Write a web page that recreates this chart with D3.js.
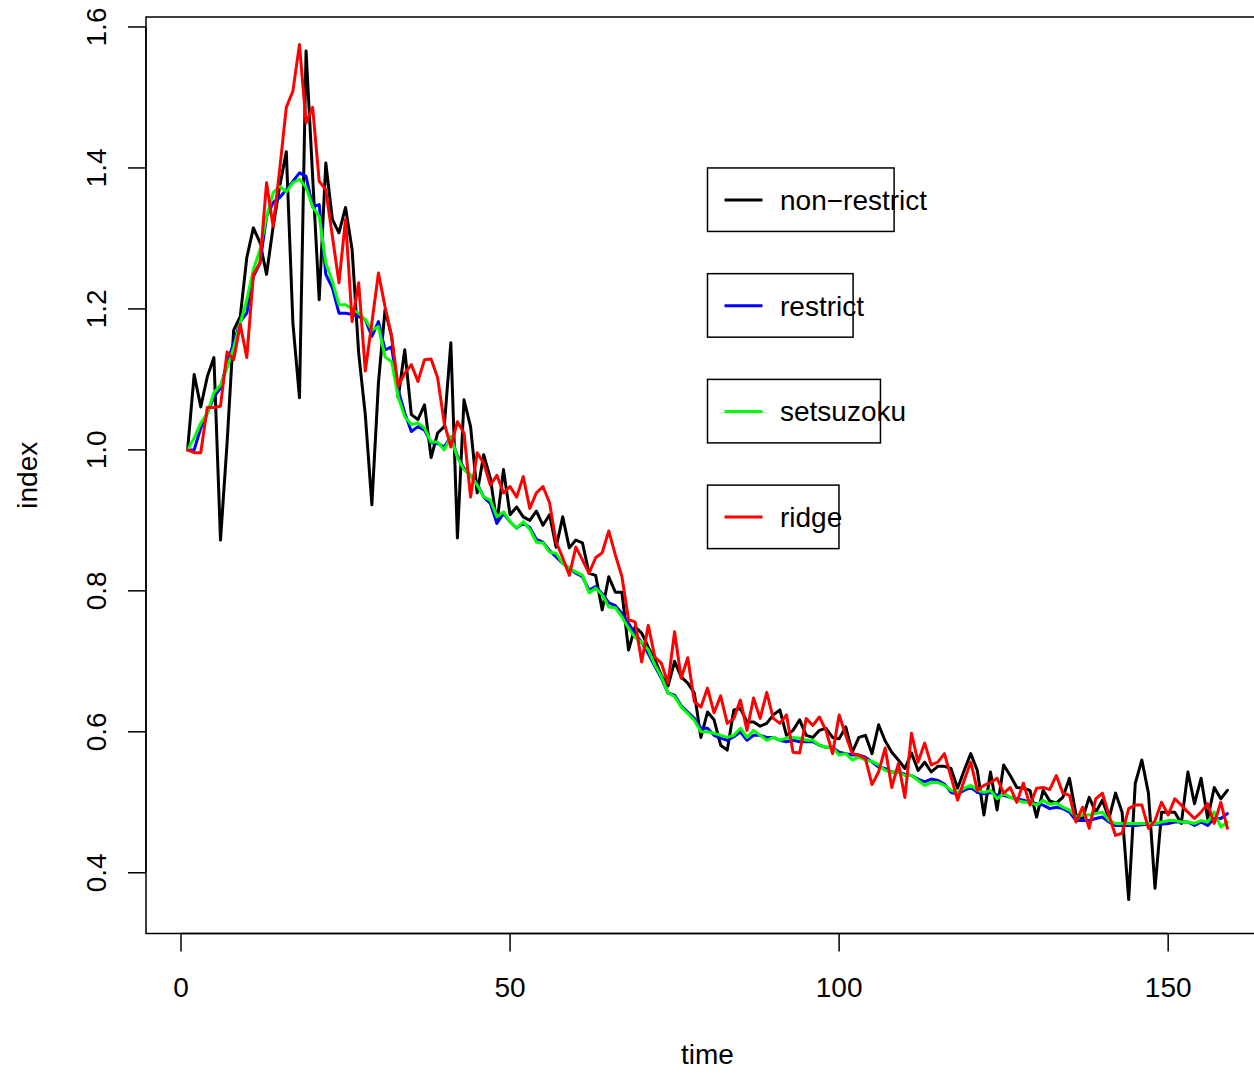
<!DOCTYPE html>
<html>
<head>
<meta charset="utf-8">
<script src="https://cdn.jsdelivr.net/npm/d3@7"></script>
<style>
  body { margin: 0; background: #fff; }
  text { font-family: "Liberation Sans", Arial, Helvetica, sans-serif; fill: #000; }
</style>
</head>
<body>
<div id="chart"></div>
<script>
// series, time = 1..159
const nonRestrict = [
  1.0, 1.107, 1.061, 1.104, 1.131, 0.872, 1.01, 1.17, 1.189, 1.273,
  1.315, 1.294, 1.249, 1.317, 1.374, 1.423, 1.18, 1.074, 1.566, 1.388,
  1.213, 1.407, 1.327, 1.308, 1.344, 1.284, 1.137, 1.05, 0.922, 1.095,
  1.199, 1.161, 1.074, 1.142, 1.05, 1.043, 1.064, 0.989, 1.024, 1.033,
  1.152, 0.875, 1.071, 1.033, 0.939, 0.993, 0.96, 0.896, 0.972, 0.908,
  0.919, 0.905, 0.9, 0.913, 0.893, 0.908, 0.862, 0.905, 0.861, 0.872,
  0.868, 0.825, 0.822, 0.773, 0.82, 0.798, 0.798, 0.716, 0.749, 0.74,
  0.72, 0.702, 0.68, 0.665, 0.7, 0.678, 0.669, 0.655, 0.592, 0.628,
  0.617, 0.581, 0.574, 0.631, 0.633, 0.614, 0.614, 0.608, 0.612, 0.624,
  0.631, 0.595, 0.602, 0.617, 0.595, 0.592, 0.602, 0.605, 0.592, 0.59,
  0.607, 0.571, 0.592, 0.595, 0.569, 0.61, 0.587, 0.571, 0.56, 0.548,
  0.57, 0.545, 0.557, 0.543, 0.551, 0.551, 0.548, 0.52, 0.545, 0.569,
  0.545, 0.482, 0.543, 0.489, 0.553, 0.538, 0.521, 0.52, 0.517, 0.479,
  0.517, 0.502, 0.499, 0.507, 0.534, 0.482, 0.477, 0.507, 0.486, 0.503,
  0.477, 0.513, 0.486, 0.362, 0.527, 0.56, 0.513, 0.378, 0.486, 0.486,
  0.486, 0.47, 0.543, 0.498, 0.534, 0.477, 0.521, 0.505, 0.517
];
const restrict = [
  1.0, 1.0, 1.031, 1.052, 1.075, 1.088, 1.123, 1.152, 1.182, 1.194,
  1.246, 1.265, 1.331, 1.351, 1.358, 1.369, 1.381, 1.393, 1.388, 1.345,
  1.348, 1.249, 1.23, 1.194, 1.194, 1.192, 1.189, 1.185, 1.161, 1.182,
  1.142, 1.146, 1.085, 1.052, 1.026, 1.033, 1.028, 1.01, 1.009, 1.004,
  1.019, 0.991, 0.974, 0.964, 0.952, 0.933, 0.924, 0.896, 0.91, 0.898,
  0.889, 0.896, 0.89, 0.873, 0.869, 0.857, 0.848, 0.839, 0.832, 0.825,
  0.82, 0.801, 0.806, 0.796, 0.783, 0.779, 0.768, 0.754, 0.739, 0.727,
  0.711, 0.693, 0.676, 0.655, 0.652, 0.637, 0.628, 0.619, 0.605, 0.605,
  0.595, 0.591, 0.588, 0.593, 0.6, 0.588, 0.595, 0.595, 0.592, 0.592,
  0.588, 0.586, 0.588, 0.586, 0.586, 0.586, 0.581, 0.578, 0.578, 0.571,
  0.569, 0.567, 0.567, 0.564, 0.557, 0.55, 0.548, 0.543, 0.543, 0.54,
  0.538, 0.533, 0.529, 0.533, 0.531, 0.526, 0.514, 0.512, 0.517, 0.521,
  0.514, 0.512, 0.514, 0.51, 0.51, 0.507, 0.505, 0.503, 0.5, 0.498,
  0.496, 0.491, 0.493, 0.491, 0.486, 0.474, 0.474, 0.474, 0.477, 0.479,
  0.472, 0.467, 0.467, 0.467, 0.467, 0.468, 0.469, 0.469, 0.469, 0.47,
  0.472, 0.472, 0.472, 0.467, 0.472, 0.467, 0.477, 0.477, 0.484
];
const setsuzoku = [
  1.0, 1.017, 1.038, 1.052, 1.081, 1.092, 1.116, 1.145, 1.18, 1.213,
  1.256, 1.284, 1.331, 1.365, 1.374, 1.366, 1.379, 1.384, 1.372, 1.345,
  1.331, 1.265, 1.239, 1.206, 1.206, 1.2, 1.194, 1.185, 1.17, 1.175,
  1.132, 1.125, 1.075, 1.047, 1.036, 1.038, 1.031, 1.011, 1.011, 1.0,
  1.019, 0.989, 0.972, 0.964, 0.95, 0.933, 0.929, 0.905, 0.912, 0.898,
  0.889, 0.898, 0.887, 0.869, 0.868, 0.855, 0.853, 0.839, 0.832, 0.827,
  0.822, 0.797, 0.804, 0.794, 0.777, 0.776, 0.763, 0.747, 0.734, 0.727,
  0.716, 0.695, 0.678, 0.655, 0.65, 0.635, 0.626, 0.616, 0.6, 0.6,
  0.598, 0.595, 0.592, 0.595, 0.605, 0.592, 0.602, 0.595, 0.588, 0.592,
  0.588, 0.591, 0.592, 0.591, 0.588, 0.588, 0.581, 0.578, 0.578, 0.567,
  0.569, 0.56, 0.564, 0.56, 0.558, 0.553, 0.545, 0.543, 0.543, 0.538,
  0.538, 0.531, 0.524, 0.528, 0.528, 0.524, 0.517, 0.514, 0.52, 0.524,
  0.517, 0.514, 0.517, 0.505, 0.513, 0.507, 0.503, 0.5, 0.5, 0.496,
  0.503, 0.497, 0.499, 0.493, 0.489, 0.479, 0.482, 0.482, 0.484, 0.486,
  0.474, 0.47, 0.47, 0.47, 0.47, 0.47, 0.47, 0.47, 0.472, 0.474,
  0.474, 0.472, 0.472, 0.47, 0.474, 0.472, 0.486, 0.465, 0.472
];
const ridge = [
  1.0, 0.996, 0.996, 1.06, 1.06, 1.062, 1.139, 1.128, 1.178, 1.131,
  1.249, 1.265, 1.379, 1.317, 1.398, 1.486, 1.509, 1.575, 1.464, 1.486,
  1.381, 1.369, 1.303, 1.237, 1.327, 1.182, 1.237, 1.112, 1.18, 1.251,
  1.203, 1.161, 1.09, 1.109, 1.121, 1.097, 1.128, 1.129, 1.102, 1.038,
  1.004, 1.04, 1.024, 0.933, 0.996, 0.981, 0.95, 0.964, 0.939, 0.948,
  0.933, 0.962, 0.917, 0.939, 0.948, 0.925, 0.869, 0.847, 0.822, 0.862,
  0.844, 0.825, 0.847, 0.854, 0.885, 0.851, 0.82, 0.759, 0.756, 0.699,
  0.751, 0.706, 0.697, 0.669, 0.742, 0.676, 0.705, 0.643, 0.635, 0.662,
  0.627, 0.651, 0.612, 0.619, 0.645, 0.602, 0.648, 0.619, 0.656, 0.619,
  0.612, 0.624, 0.571, 0.57, 0.619, 0.609, 0.621, 0.602, 0.569, 0.624,
  0.595, 0.569, 0.567, 0.562, 0.525, 0.543, 0.577, 0.521, 0.555, 0.507,
  0.598, 0.557, 0.584, 0.553, 0.557, 0.569, 0.536, 0.503, 0.531, 0.557,
  0.517, 0.524, 0.528, 0.534, 0.513, 0.521, 0.5, 0.527, 0.496, 0.52,
  0.521, 0.518, 0.538, 0.513, 0.51, 0.472, 0.493, 0.463, 0.505, 0.513,
  0.482, 0.453, 0.456, 0.491, 0.496, 0.496, 0.463, 0.474, 0.5, 0.482,
  0.505, 0.496, 0.486, 0.477, 0.486, 0.498, 0.47, 0.5, 0.463
];

const seriesNames = ["non\u2212restrict", "restrict", "setsuzoku", "ridge"];
const seriesColors = ["black", "blue", "#00ff00", "red"];
const xTicks = [0, 50, 100, 150];
const yTicks = [0.4, 0.6, 0.8, 1.0, 1.2, 1.4, 1.6];
// legend() calls were placed at these data coordinates
const legendX = 80;
const legendY = [1.4, 1.25, 1.1, 0.95];

const width = 1254,
  height = 1074;
const plot = { left: 146, right: 1269, top: 17, bottom: 933.5 };
const fontSize = 28;

const svg = d3
  .select("#chart")
  .append("svg")
  .attr("width", width)
  .attr("height", height);

const time = d3.range(1, nonRestrict.length + 1);

// R style limits: range of the first plotted series, padded 4%
const padRange = (ext) => {
  const p = (ext[1] - ext[0]) * 0.04;
  return [ext[0] - p, ext[1] + p];
};

const x = d3
  .scaleLinear()
  .domain(padRange(d3.extent(time)))
  .range([plot.left, plot.right]);
const y = d3
  .scaleLinear()
  .domain(padRange(d3.extent(nonRestrict)))
  .range([plot.bottom, plot.top]);

// lines, drawn in the order of plot() then lines()
const line = d3
  .line()
  .x((d, i) => x(time[i]))
  .y((d) => y(d));

[nonRestrict, restrict, setsuzoku, ridge].forEach((values, k) => {
  svg
    .append("path")
    .attr("d", line(values))
    .attr("fill", "none")
    .attr("stroke", seriesColors[k])
    .attr("stroke-width", 3)
    .attr("stroke-linejoin", "round")
    .attr("stroke-linecap", "round");
});

// box
svg
  .append("rect")
  .attr("x", plot.left)
  .attr("y", plot.top)
  .attr("width", plot.right - plot.left)
  .attr("height", plot.bottom - plot.top)
  .attr("fill", "none")
  .attr("stroke", "black")
  .attr("stroke-width", 1.5);

// x axis
const xAxis = svg.append("g").attr("class", "x-axis");
xAxis
  .append("line")
  .attr("x1", x(xTicks[0]))
  .attr("x2", x(xTicks[xTicks.length - 1]))
  .attr("y1", plot.bottom)
  .attr("y2", plot.bottom)
  .attr("stroke", "black")
  .attr("stroke-width", 1.5);
xAxis
  .selectAll("line.tick")
  .data(xTicks)
  .join("line")
  .attr("class", "tick")
  .attr("x1", (d) => x(d))
  .attr("x2", (d) => x(d))
  .attr("y1", plot.bottom)
  .attr("y2", plot.bottom + 18)
  .attr("stroke", "black")
  .attr("stroke-width", 1.5);
xAxis
  .selectAll("text")
  .data(xTicks)
  .join("text")
  .attr("x", (d) => x(d))
  .attr("y", 997)
  .attr("text-anchor", "middle")
  .style("font-size", fontSize + "px")
  .text((d) => d);

// y axis
const yAxis = svg.append("g").attr("class", "y-axis");
yAxis
  .append("line")
  .attr("x1", plot.left)
  .attr("x2", plot.left)
  .attr("y1", y(yTicks[0]))
  .attr("y2", y(yTicks[yTicks.length - 1]))
  .attr("stroke", "black")
  .attr("stroke-width", 1.5);
yAxis
  .selectAll("line.tick")
  .data(yTicks)
  .join("line")
  .attr("class", "tick")
  .attr("x1", plot.left - 18)
  .attr("x2", plot.left)
  .attr("y1", (d) => y(d))
  .attr("y2", (d) => y(d))
  .attr("stroke", "black")
  .attr("stroke-width", 1.5);
yAxis
  .selectAll("text")
  .data(yTicks)
  .join("text")
  .attr("transform", (d) => `translate(106,${y(d)}) rotate(-90)`)
  .attr("text-anchor", "middle")
  .style("font-size", fontSize + "px")
  .text((d) => d3.format(".1f")(d));

// axis titles
svg
  .append("text")
  .attr("x", (plot.left + plot.right) / 2)
  .attr("y", 1064)
  .attr("text-anchor", "middle")
  .style("font-size", fontSize + "px")
  .text("time");
svg
  .append("text")
  .attr("transform", `translate(37,${(plot.top + plot.bottom) / 2}) rotate(-90)`)
  .attr("text-anchor", "middle")
  .style("font-size", fontSize + "px")
  .text("index");

// one legend box per series; R sized the boxes smaller than the text
seriesNames.forEach((name, k) => {
  const g = svg
    .append("g")
    .attr("transform", `translate(${x(legendX)},${y(legendY[k])})`);
  const box = g
    .append("rect")
    .attr("height", 63.5)
    .attr("fill", "none")
    .attr("stroke", "black")
    .attr("stroke-width", 1.5);
  g.append("line")
    .attr("x1", 17)
    .attr("x2", 55)
    .attr("y1", 32)
    .attr("y2", 32)
    .attr("stroke", seriesColors[k])
    .attr("stroke-width", 3);
  const label = g
    .append("text")
    .attr("x", 72.5)
    .attr("y", 32)
    .attr("dy", "0.36em")
    .style("font-size", fontSize + "px")
    .text(name);
  const tw = label.node().getComputedTextLength();
  box.attr("width", 91 + 0.65 * tw);
});
</script>
</body>
</html>
